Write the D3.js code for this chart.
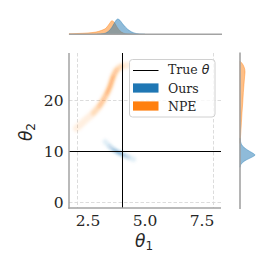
<!DOCTYPE html>
<html><head><meta charset="utf-8">
<script src="https://cdn.jsdelivr.net/npm/d3@7"></script>
<style>html,body{margin:0;padding:0;background:#fff;} svg{display:block;}</style>
</head><body><svg id="c" width="274" height="274"></svg>
<script>
// ---------------- data ----------------
const trueTheta = [4.0, 10.0];
const xTicks = [2.5, 5.0, 7.5];
const yTicks = [0, 10, 20];
const xGrid = [2, 8];
const yGrid = [0, 20];
const seriesNames = ["Ours", "NPE"];
const seriesColors = ["#1f77b4", "#ff7f0e"];
// 2D posterior ridges: [theta1, theta2, relative density]
const oursRidge = [
  [3.25, 11.8, 0.12], [3.45, 10.9, 0.35], [3.61, 10.3, 0.7], [3.78, 9.85, 0.95],
  [3.9, 9.55, 1.0], [4.08, 9.15, 0.7], [4.27, 8.76, 0.4], [4.5, 8.35, 0.2], [4.78, 7.9, 0.08]
];
const npeRidge = [
  [2.0, 14.45, 0.12], [2.35, 15.9, 0.22], [2.73, 17.4, 0.35], [3.0, 18.8, 0.55],
  [3.17, 20.0, 0.75], [3.33, 21.3, 0.9], [3.46, 22.6, 0.95], [3.61, 24.6, 1.0],
  [3.76, 25.9, 0.75], [3.98, 26.6, 0.35], [4.25, 26.8, 0.12]
];
// marginal of theta1: [theta1, relative density]
const oursTheta1 = [
  [2.9, 0], [3.2, 0.05], [3.4, 0.2], [3.55, 0.46], [3.65, 0.72], [3.75, 0.95], [3.8, 1.0],
  [3.9, 0.92], [4.0, 0.72], [4.15, 0.46], [4.3, 0.26], [4.5, 0.1], [4.75, 0.02], [5.0, 0]
];
const npeTheta1 = [
  [1.67, 0.03], [2.0, 0.05], [2.5, 0.09], [2.85, 0.15], [3.1, 0.26], [3.3, 0.42], [3.45, 0.72],
  [3.55, 0.89], [3.65, 0.78], [3.78, 0.46], [3.9, 0.23], [4.05, 0.08], [4.25, 0.02], [4.5, 0]
];
// marginal of theta2: [theta2, relative density]
const oursTheta2 = [
  [12.5, 0], [11.8, 0.04], [11.0, 0.16], [10.4, 0.39], [9.9, 0.65], [9.5, 0.88], [9.2, 0.98],
  [8.9, 0.85], [8.5, 0.59], [8.1, 0.33], [7.7, 0.16], [7.3, 0.05], [6.8, 0]
];
const npeTheta2 = [
  [27.6, 0], [27.2, 0.13], [26.5, 0.26], [25.5, 0.33], [24.5, 0.3], [23.0, 0.26], [21.5, 0.22],
  [19.5, 0.18], [17.5, 0.13], [15.5, 0.09], [13.5, 0.05], [12.3, 0.02], [11.5, 0]
];

// ---------------- layout ----------------
const svg = d3.select("#c");
const L = 69, R = 221, T = 53, B = 208;
const topBase = 34.3, rightBase = 240;
const x = d3.scaleLinear().domain([1.667, 8.333]).range([L, R]);
const y = d3.scaleLinear().domain([-1.18, 29.2]).range([B, T]);
const dens = d3.scaleLinear().domain([0, 1]).range([0, 15.3]);
const serif = "DejaVu Serif, serif";
const spineCol = "#a3a3a3";
const crisp = v => Math.round(v) + 0.5;

const defs = svg.append("defs");
defs.append("clipPath").attr("id", "clip").append("rect")
  .attr("x", L).attr("y", T).attr("width", R - L).attr("height", B - T);
defs.append("filter").attr("id", "blur").attr("x", "-20%").attr("y", "-20%")
  .attr("width", "140%").attr("height", "140%")
  .append("feGaussianBlur").attr("stdDeviation", 1.6);

// grid
const g = svg.append("g");
g.selectAll(".vg").data(xGrid).join("line")
  .attr("x1", d => crisp(x(d))).attr("x2", d => crisp(x(d))).attr("y1", T).attr("y2", B)
  .attr("stroke", "#d8d8d8").attr("stroke-width", 0.9).attr("stroke-dasharray", "3.5,2");
g.selectAll(".hg").data(yGrid).join("line")
  .attr("y1", d => crisp(y(d))).attr("y2", d => crisp(y(d))).attr("x1", L).attr("x2", R)
  .attr("stroke", "#d8d8d8").attr("stroke-width", 0.9).attr("stroke-dasharray", "3.5,2");

// 2D density ridges
const ridgeLine = d3.line().x(d => x(d[0])).y(d => y(d[1])).curve(d3.curveCatmullRom);
const dens2d = svg.append("g").attr("clip-path", "url(#clip)").append("g").attr("filter", "url(#blur)");
function drawRidge(data, color, widths, op) {
  const levels = [0.1, 0.3, 0.55, 0.8];
  levels.forEach((lv, i) => {
    let runs = [], cur = [];
    data.forEach(p => { if (p[2] >= lv) cur.push(p); else { if (cur.length) runs.push(cur); cur = []; } });
    if (cur.length) runs.push(cur);
    runs.forEach(run => {
      dens2d.append("path").attr("d", ridgeLine(run.length > 1 ? run : [run[0], run[0]]))
        .attr("fill", "none").attr("stroke", color).attr("stroke-width", widths[i])
        .attr("stroke-linecap", "round").attr("stroke-linejoin", "round").attr("stroke-opacity", op[i]);
    });
  });
}
drawRidge(npeRidge, seriesColors[1], [7, 5, 3.6, 2.6], [0.12, 0.18, 0.25, 0.3]);
drawRidge(oursRidge, seriesColors[0], [5, 3.8, 2.8, 2], [0.12, 0.18, 0.25, 0.32]);

// true theta lines
svg.append("line").attr("x1", crisp(x(trueTheta[0]))).attr("x2", crisp(x(trueTheta[0]))).attr("y1", T).attr("y2", B)
  .attr("stroke", "#000").attr("stroke-width", 1);
svg.append("line").attr("y1", crisp(y(trueTheta[1]))).attr("y2", crisp(y(trueTheta[1]))).attr("x1", L).attr("x2", R)
  .attr("stroke", "#000").attr("stroke-width", 1);

// spines
svg.append("line").attr("x1", L).attr("x2", L).attr("y1", T).attr("y2", B + 0.7)
  .attr("stroke", spineCol).attr("stroke-width", 1.5);
svg.append("line").attr("x1", L - 0.7).attr("x2", R).attr("y1", B).attr("y2", B)
  .attr("stroke", spineCol).attr("stroke-width", 1.5);

// tick labels
svg.selectAll(".xt").data(xTicks).join("text")
  .attr("x", d => x(d)).attr("y", 226).attr("text-anchor", "middle")
  .attr("font-family", serif).attr("font-size", 15.5).attr("fill", "#262626")
  .text(d => d.toFixed(1));
svg.selectAll(".yt").data(yTicks).join("text")
  .attr("x", 63.5).attr("y", d => y(d) + 5.6).attr("text-anchor", "end")
  .attr("font-family", serif).attr("font-size", 15.5).attr("fill", "#262626")
  .text(d => d);

// axis labels
const xl = svg.append("text").attr("x", 144).attr("y", 246.5).attr("text-anchor", "middle")
  .attr("font-family", "DejaVu Sans, sans-serif").attr("font-size", 17).attr("fill", "#262626");
xl.append("tspan").attr("font-style", "italic").text("θ");
xl.append("tspan").attr("font-size", 12).attr("dy", 3).text("1");
const yl = svg.append("text").attr("transform", "translate(32,132) rotate(-90)").attr("text-anchor", "middle")
  .attr("font-family", "DejaVu Sans, sans-serif").attr("font-size", 17).attr("fill", "#262626");
yl.append("tspan").attr("font-style", "italic").text("θ");
yl.append("tspan").attr("font-size", 12).attr("dy", 3).text("2");

// top marginal
const topArea = d3.area().x(d => x(d[0])).y0(topBase).y1(d => topBase - dens(d[1])).curve(d3.curveMonotoneX);
[[npeTheta1, seriesColors[1]], [oursTheta1, seriesColors[0]]].forEach(([data, c]) => {
  svg.append("path").attr("d", topArea(data)).attr("fill", c).attr("fill-opacity", 0.5)
    .attr("stroke", c).attr("stroke-opacity", 0.5).attr("stroke-width", 0.8);
});
svg.append("line").attr("x1", L).attr("x2", R + 1).attr("y1", topBase).attr("y2", topBase)
  .attr("stroke", spineCol).attr("stroke-width", 1.6);

// right marginal
const rightArea = d3.area().y(d => y(d[0])).x0(rightBase).x1(d => rightBase + dens(d[1])).curve(d3.curveMonotoneY);
[[npeTheta2, seriesColors[1]], [oursTheta2, seriesColors[0]]].forEach(([data, c]) => {
  svg.append("path").attr("d", rightArea(data)).attr("fill", c).attr("fill-opacity", 0.5)
    .attr("stroke", c).attr("stroke-opacity", 0.5).attr("stroke-width", 0.8);
});
svg.append("line").attr("x1", rightBase).attr("x2", rightBase).attr("y1", T - 0.5).attr("y2", B + 1)
  .attr("stroke", spineCol).attr("stroke-width", 1.6);

// legend
const lg = svg.append("g");
lg.append("rect").attr("x", 129.5).attr("y", 59.5).attr("width", 85.5).attr("height", 57.5)
  .attr("rx", 3).attr("fill", "#fff").attr("fill-opacity", 0.8)
  .attr("stroke", "#d0d0d0").attr("stroke-width", 1);
lg.append("line").attr("x1", 133).attr("x2", 158.5).attr("y1", 70.5).attr("y2", 70.5)
  .attr("stroke", "#000").attr("stroke-width", 1);
const lt = lg.append("text").attr("x", 168).attr("y", 74.3).attr("font-family", serif)
  .attr("font-size", 12.5).attr("fill", "#262626");
lt.append("tspan").text("True ");
lt.append("tspan").attr("font-family", "DejaVu Sans, sans-serif").attr("font-style", "italic").text("θ");
seriesNames.forEach((n, i) => {
  const cy = 88 + i * 18;
  lg.append("rect").attr("x", 133).attr("y", cy - 4.6).attr("width", 25.5).attr("height", 9.2)
    .attr("fill", seriesColors[i]);
  lg.append("text").attr("x", 168).attr("y", cy + 4.5).attr("font-family", serif)
    .attr("font-size", 12.5).attr("fill", "#262626").text(n);
});
</script></body></html>
